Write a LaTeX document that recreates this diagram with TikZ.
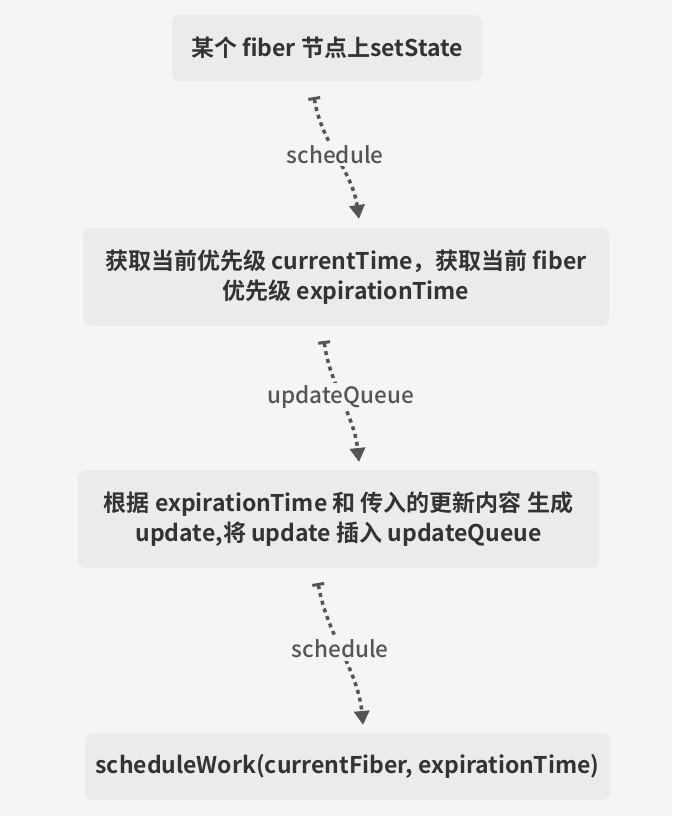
\documentclass[tikz,border=0pt]{standalone}
\usepackage{fontspec}
\setmainfont{Noto Sans CJK SC Medium}
\newfontfamily\boxfont{Noto Sans CJK SC Bold}
\usetikzlibrary{arrows.meta}
\definecolor{bgc}{HTML}{F5F5F8}
\definecolor{boxc}{HTML}{EBEBEB}
\definecolor{txtc}{HTML}{333333}
\definecolor{lblc}{HTML}{555555}
\tikzset{
  stepbox/.style={draw=none, fill=boxc, rounded corners=8pt, text=txtc, font=\boxfont\fontsize{23}{30}\selectfont, align=center, inner sep=0pt},
  flow/.style={draw=lblc, line width=3.5pt, dash pattern=on 4pt off 4pt, {Bar[width=12pt,line width=3pt,sep=0pt]}-{Triangle[width=15pt,length=14pt]}},
  lbl/.style={fill=bgc, text=lblc, font=\fontsize{22.5}{26}\selectfont, inner sep=3pt}
}
\begin{document}
\begin{tikzpicture}[x=1pt,y=-1pt]
\useasboundingbox[fill=bgc] (0,0) rectangle (672,816);
\node[stepbox, minimum width=310pt, minimum height=66pt] (a) at (327,48) {某个 fiber 节点上setState};
\node[stepbox, minimum width=526pt, minimum height=98pt] (b) at (346,277) {获取当前优先级 currentTime，获取当前 fiber\\优先级 expirationTime};
\node[stepbox, minimum width=521pt, minimum height=98pt] (c) at (338.5,519) {根据 expirationTime 和 传入的更新内容 生成\\update,将 update 插入 updateQueue};
\node[stepbox, minimum width=525pt, minimum height=67pt] (d) at (347.5,766.5) {scheduleWork(currentFiber, expirationTime)};
\coordinate (a1) at (314,97);
\coordinate (b0) at (359,219);
\coordinate (b1) at (324,341);
\coordinate (c0) at (359,462);
\coordinate (c1) at (318,583);
\coordinate (d0) at (363,725);
\draw[flow] (a1) .. controls (322,145) and (352,170) .. (b0) node[lbl, pos=0.47] (l1) {schedule};
\draw[flow] (b1) .. controls (330,385) and (354,415) .. (c0) node[lbl, pos=0.47] (l2) {updateQueue};
\draw[flow] (c1) .. controls (327,635) and (358,670) .. (d0) node[lbl, pos=0.47] (l3) {schedule};
\end{tikzpicture}
\end{document}
